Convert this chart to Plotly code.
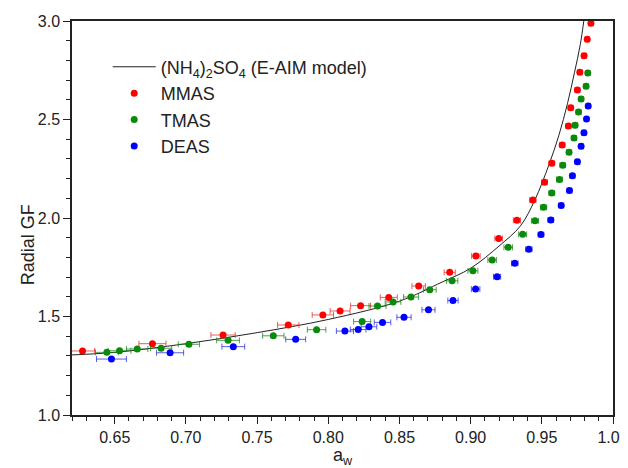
import plotly.graph_objects as go

# E-AIM model curve for (NH4)2SO4
model_aw = [0.62, 0.65, 0.70, 0.75, 0.80, 0.85, 0.88, 0.90, 0.92, 0.935, 0.945,
            0.955, 0.962, 0.968, 0.973, 0.977, 0.9795]
model_gf = [1.305, 1.318, 1.362, 1.418, 1.485, 1.578, 1.675, 1.745, 1.858, 1.96, 2.09,
            2.27, 2.42, 2.58, 2.74, 2.88, 3.0]

mmas_aw = [0.6274, 0.6765, 0.7261, 0.7719, 0.7962, 0.8083, 0.8227, 0.8425, 0.8635, 0.8853,
           0.9037, 0.9197, 0.9325, 0.9437, 0.9519, 0.9570, 0.9643, 0.9687, 0.9703, 0.9750,
           0.9767, 0.9797, 0.9819, 0.9845]
mmas_gf = [1.325, 1.362, 1.406, 1.457, 1.508, 1.528, 1.555, 1.597, 1.655, 1.724,
           1.807, 1.896, 1.988, 2.091, 2.182, 2.278, 2.371, 2.467, 2.560, 2.650,
           2.740, 2.824, 2.907, 2.988]
mmas_err = [0.0085, 0.0095, 0.0085, 0.0075, 0.0075, 0.007, 0.007, 0.006, 0.0047, 0.0039,
            0.003, 0.0027, 0.0025, 0.0022, 0.002, 0.002, 0.0018, 0.0018, 0.0017, 0.0017,
            0.0016, 0.0016, 0.0015, 0.0015]

tmas_aw = [0.6445, 0.6534, 0.6658, 0.6826, 0.7021, 0.7296, 0.7614, 0.7918, 0.8238, 0.8346,
           0.8455, 0.8581, 0.8713, 0.8870, 0.9016, 0.9151, 0.9264, 0.9365, 0.9452, 0.9512,
           0.9570, 0.9624, 0.9647, 0.9691, 0.9726, 0.9734, 0.9758, 0.9776, 0.9811, 0.9823]
tmas_gf = [1.318, 1.326, 1.335, 1.339, 1.359, 1.379, 1.402, 1.433, 1.474, 1.553,
           1.574, 1.599, 1.636, 1.681, 1.732, 1.787, 1.851, 1.917, 1.986, 2.054,
           2.127, 2.196, 2.268, 2.334, 2.406, 2.471, 2.538, 2.604, 2.669, 2.736]
tmas_err = [0.008, 0.008, 0.0075, 0.0075, 0.0075, 0.008, 0.0075, 0.0065, 0.006, 0.006,
            0.0055, 0.0052, 0.0045, 0.004, 0.0035, 0.003, 0.003, 0.0028, 0.0025, 0.0022,
            0.002, 0.002, 0.0019, 0.0018, 0.0018, 0.0017, 0.0017, 0.0016, 0.0016, 0.0015]

deas_aw = [0.6477, 0.6889, 0.7333, 0.7771, 0.8117, 0.8210, 0.8286, 0.8381, 0.8532, 0.8704,
           0.8876, 0.9035, 0.9186, 0.9310, 0.9409, 0.9494, 0.9563, 0.9636, 0.9694, 0.9715,
           0.9750, 0.9776, 0.9796, 0.9814, 0.9826]
deas_gf = [1.284, 1.316, 1.347, 1.384, 1.426, 1.434, 1.448, 1.470, 1.496, 1.534,
           1.581, 1.639, 1.702, 1.770, 1.842, 1.916, 1.990, 2.064, 2.139, 2.214,
           2.286, 2.364, 2.433, 2.503, 2.569]
deas_err = [0.0105, 0.0095, 0.008, 0.007, 0.006, 0.0055, 0.0055, 0.0058, 0.005, 0.0046,
            0.0036, 0.003, 0.0025, 0.0023, 0.0022, 0.002, 0.002, 0.0018, 0.0017, 0.0017,
            0.0016, 0.0016, 0.0015, 0.0015, 0.0015]

FONT = "Liberation Sans, Arial, sans-serif"

fig = go.Figure()
fig.add_trace(go.Scatter(
    x=model_aw, y=model_gf, mode="lines", line=dict(color="#222222", width=1, shape="spline"),
    name="(NH<sub>4</sub>)<sub>2</sub>SO<sub>4</sub> (E-AIM model)"))

def add_series(xs, ys, errs, name, col, ecol):
    fig.add_trace(go.Scatter(
        x=xs, y=ys, mode="markers", name=name,
        marker=dict(color=col, size=7, line=dict(width=0)),
        error_x=dict(type="data", array=errs, visible=True, color=ecol, thickness=1, width=3)))

add_series(mmas_aw, mmas_gf, mmas_err, "MMAS", "#ff0000", "rgba(230,40,40,0.75)")
add_series(tmas_aw, tmas_gf, tmas_err, "TMAS", "#0a8a0a", "rgba(20,130,20,0.75)")
add_series(deas_aw, deas_gf, deas_err, "DEAS", "#0000ff", "rgba(40,40,220,0.75)")

axis_common = dict(showline=True, linecolor="#222222", linewidth=1.5, mirror=True,
                   ticks="outside", ticklen=7, tickwidth=1, tickcolor="#222222",
                   showgrid=False, zeroline=False, automargin=False,
                   ticklabeloverflow="allow",
                   tickfont=dict(family=FONT, size=16, color="#222222"))

# page body has an 8px margin; figure is sized so the plot area lands where the reference's does
fig.update_layout(
    width=620, height=460,
    margin=dict(l=64, r=15, t=13, b=53),
    paper_bgcolor="white", plot_bgcolor="white",
    font=dict(family=FONT, color="#222222"),
    xaxis=dict(range=[0.62, 1.0], dtick=0.05, tick0=0, tickformat=".2f",
               minor=dict(dtick=0.01, ticks="outside", ticklen=4, tickcolor="#222222"),
               **axis_common),
    yaxis=dict(range=[1.0, 3.0], dtick=0.5, tick0=0, tickformat=".1f",
               minor=dict(dtick=0.1, ticks="outside", ticklen=4, tickcolor="#222222"),
               **axis_common),
    legend=dict(x=0.066, y=0.93, xanchor="left", yanchor="top", bgcolor="rgba(0,0,0,0)",
                itemwidth=43,
                font=dict(family=FONT, size=18, color="#222222"), tracegroupgap=0),
    showlegend=True,
    annotations=[
        dict(text="a<sub>w</sub>", xref="paper", yref="paper", x=0.5, y=-0.105,
             xanchor="center", yanchor="middle", showarrow=False,
             font=dict(family=FONT, size=18, color="#222222")),
        dict(text="Radial GF", xref="paper", yref="paper", x=-0.081, y=0.431,
             xanchor="center", yanchor="middle", showarrow=False, textangle=-90,
             font=dict(family=FONT, size=18, color="#222222")),
    ],
)

fig.write_html("out.html")
